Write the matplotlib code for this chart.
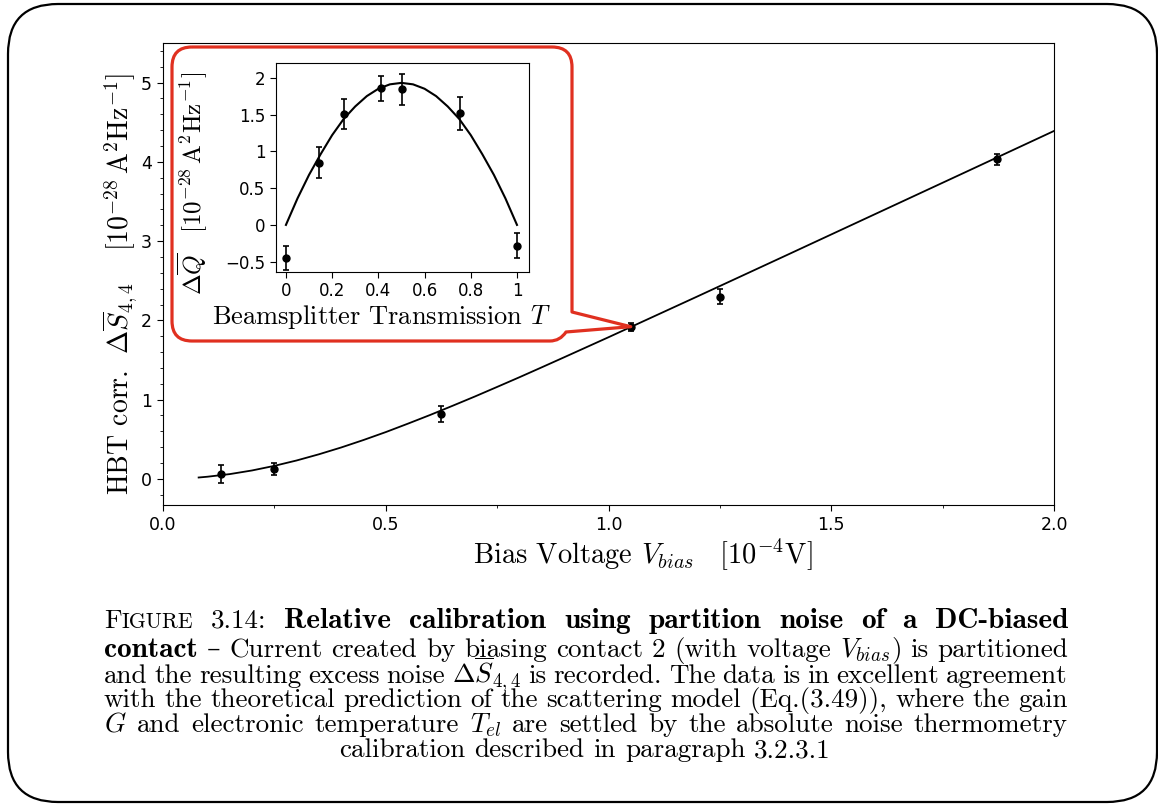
import numpy as np
import matplotlib
matplotlib.use("Agg")
import matplotlib.pyplot as plt
from matplotlib.path import Path
from matplotlib.patches import PathPatch, FancyBboxPatch
from matplotlib.transforms import IdentityTransform
from matplotlib.ticker import MultipleLocator, FuncFormatter

plt.rcParams["mathtext.fontset"] = "cm"

# main panel: HBT correlation vs bias voltage
bias_v = [0.13, 0.25, 0.625, 1.05, 1.25, 1.872]
hbt = [0.063, 0.126, 0.82, 1.92, 2.30, 4.03]
hbt_err = [0.11, 0.075, 0.105, 0.05, 0.09, 0.07]

fit_v = [0.08, 0.1, 0.15, 0.2, 0.25, 0.3, 0.35, 0.4, 0.45, 0.5, 0.55, 0.6,
         0.65, 0.7, 0.75, 0.8, 0.85, 0.9, 1.0, 1.2, 1.4, 1.6, 1.8, 2.0]
fit_s = [0.017, 0.027, 0.060, 0.106, 0.164, 0.232, 0.310, 0.396, 0.490,
         0.590, 0.697, 0.807, 0.922, 1.039, 1.160, 1.282, 1.407, 1.533,
         1.787, 2.303, 2.823, 3.345, 3.867, 4.390]

# inset: partition noise vs beamsplitter transmission
trans = [0.0, 0.145, 0.251, 0.412, 0.503, 0.754, 1.0]
dq = [-0.452, 0.846, 1.507, 1.855, 1.846, 1.516, -0.28]
dq_err = [0.16, 0.21, 0.20, 0.17, 0.21, 0.22, 0.165]

fit_t = [0.0, 0.05, 0.1, 0.15, 0.2, 0.25, 0.3, 0.35, 0.4, 0.45, 0.5,
         0.55, 0.6, 0.65, 0.7, 0.75, 0.8, 0.85, 0.9, 0.95, 1.0]
fit_q = [0.0, 0.36, 0.68, 0.96, 1.22, 1.44, 1.61, 1.75, 1.85, 1.91, 1.93,
         1.91, 1.85, 1.75, 1.61, 1.44, 1.22, 0.96, 0.68, 0.36, 0.0]

W, H = 1158, 806
RED = "#e03020"
SERIF = ["cmr10", "DejaVu Serif"]
BOLD = ["cmb10", "DejaVu Serif"]


def fx(x):
    return x / W


def fy(y):
    return 1 - y / H


fig = plt.figure(figsize=(W / 100, H / 100), dpi=100)

# main axes
ax = fig.add_axes([fx(163), fy(505), fx(1054 - 163), (505 - 43) / H])
ax.plot(fit_v, fit_s, color="black", lw=1.3)
ax.errorbar(bias_v, hbt, yerr=hbt_err, fmt="o", color="black", ms=5,
            capsize=2, elinewidth=1.2, capthick=1.2)
ax.set_xlim(0, 2.0)
ax.set_ylim(-0.33, 5.5)
ax.xaxis.set_major_locator(MultipleLocator(0.5))
ax.xaxis.set_minor_locator(MultipleLocator(0.25))
ax.yaxis.set_major_locator(MultipleLocator(1))
ax.yaxis.set_minor_locator(MultipleLocator(0.2))
ax.xaxis.set_major_formatter(FuncFormatter(lambda v, p: f"{v:.1f}"))
ax.tick_params(which="major", length=4.5, labelsize=12.5)
ax.tick_params(which="minor", length=2.5)

fig.text(fx(120), fy(284),
         r"HBT corr. $\;\Delta\overline{S}_{4,4}\quad\;[10^{-28}\,\mathrm{A}^2\mathrm{Hz}^{-1}]$",
         fontfamily=SERIF, fontsize=20, rotation=90,
         ha="center", va="center")
fig.text(fx(643), fy(555),
         r"Bias Voltage $V_{bias}\quad[10^{-4}\mathrm{V}]$",
         fontfamily=SERIF, fontsize=20.5, ha="center", va="center")

# inset axes
ax_in = fig.add_axes([fx(276), fy(272), fx(529 - 276), (272 - 63) / H])
ax_in.plot(fit_t, fit_q, color="black", lw=1.5)
ax_in.errorbar(trans, dq, yerr=dq_err, fmt="o", color="black", ms=5,
               capsize=2.5, elinewidth=1.2, capthick=1.2)
ax_in.set_xlim(-0.043, 1.052)
ax_in.set_ylim(-0.64, 2.2)
ax_in.xaxis.set_major_locator(MultipleLocator(0.2))
ax_in.yaxis.set_major_locator(MultipleLocator(0.5))
fmt = FuncFormatter(lambda v, p: f"{v:g}".replace("-", "\u2212"))
ax_in.xaxis.set_major_formatter(fmt)
ax_in.yaxis.set_major_formatter(fmt)
ax_in.tick_params(length=4, labelsize=12)
fig.text(fx(381), fy(317), r"Beamsplitter Transmission $T$",
         fontfamily=SERIF, fontsize=19, ha="center", va="center")
fig.text(fx(192), fy(183),
         r"$\Delta\overline{Q}\quad[10^{-28}\,\mathrm{A}^2\mathrm{Hz}^{-1}]$",
         fontfamily=SERIF, fontsize=18, rotation=90, ha="center", va="center")

# red callout around the inset, pointing at the 1.05 data point
fig.canvas.draw()
tx, ty = ax.transData.transform((bias_v[3], hbt[3]))
tip = (tx, H - ty)
r = 20
pts = [(172 + r, 47), (572 - r, 47), (572, 47), (572, 47 + r), (572, 312),
       tip, (566, 332), (560, 341), (550, 341), (172 + r, 341), (172, 341),
       (172, 341 - r), (172, 47 + r), (172, 47), (172 + r, 47)]
codes = [Path.MOVETO, Path.LINETO, Path.CURVE3, Path.CURVE3, Path.LINETO,
         Path.LINETO, Path.LINETO, Path.CURVE3, Path.CURVE3, Path.LINETO,
         Path.CURVE3, Path.CURVE3, Path.LINETO, Path.CURVE3, Path.CURVE3]
path = Path([(fx(x), fy(y)) for x, y in pts], codes)
fig.add_artist(PathPatch(path, transform=fig.transFigure, facecolor="none",
                         edgecolor=RED, lw=2.3, joinstyle="round"))

# rounded frame around the whole figure
fig.add_artist(FancyBboxPatch((8 + 50, 4 + 50), 1149 - 100, 798 - 100,
                              boxstyle="round,pad=50",
                              transform=IdentityTransform(),
                              facecolor="none", edgecolor="black", lw=1.6))

# caption, justified line by line
FS = 19.5
reg = dict(fontfamily=SERIF, fontsize=FS)
bold = dict(fontfamily=BOLD, fontsize=FS * 1.08)
sc = dict(fontfamily=SERIF, fontsize=FS * 0.8)

renderer = fig.canvas.get_renderer()


def words(s, style):
    return [[(w, style)] for w in s.split()]


def place_line(line, base_y, x0=104, x1=1068, center=None):
    arts, widths = [], []
    for word in line:
        pieces, total = [], 0
        for s, st in word:
            t = fig.text(0, 0, s, transform=IdentityTransform(),
                         ha="left", va="baseline", **st)
            w = t.get_window_extent(renderer).width
            pieces.append((t, w))
            total += w
        arts.append(pieces)
        widths.append(total)
    if center is None:
        gap = (x1 - x0 - sum(widths)) / (len(line) - 1)
    else:
        gap = FS * 0.33 * 100 / 72
        x0 = center - (sum(widths) + gap * (len(line) - 1)) / 2
    x = x0
    for pieces, w in zip(arts, widths):
        xx = x
        for t, pw in pieces:
            t.set_position((xx, H - base_y))
            xx += pw
        x += w + gap


line1 = ([[("F", reg), ("IGURE", sc)], [("3.14:", reg)]]
         + words("Relative calibration using partition noise of a DC-biased", bold))
line2 = ([[("contact", bold)]]
         + words(r"– Current created by biasing contact 2 (with voltage $V_{bias}$) is partitioned", reg))
line3 = words(r"and the resulting excess noise $\Delta\overline{S}_{4,4}$ is recorded. The data is in excellent agreement", reg)
line4 = words("with the theoretical prediction of the scattering model (Eq.(3.49)), where the gain", reg)
line5 = words(r"$G$ and electronic temperature $T_{el}$ are settled by the absolute noise thermometry", reg)
line6 = words("calibration described in paragraph 3.2.3.1", reg)

place_line(line1, 628)
place_line(line2, 657)
place_line(line3, 683)
place_line(line4, 707)
place_line(line5, 732)
place_line(line6, 757, center=585)

fig.savefig("out.png", dpi=100)
